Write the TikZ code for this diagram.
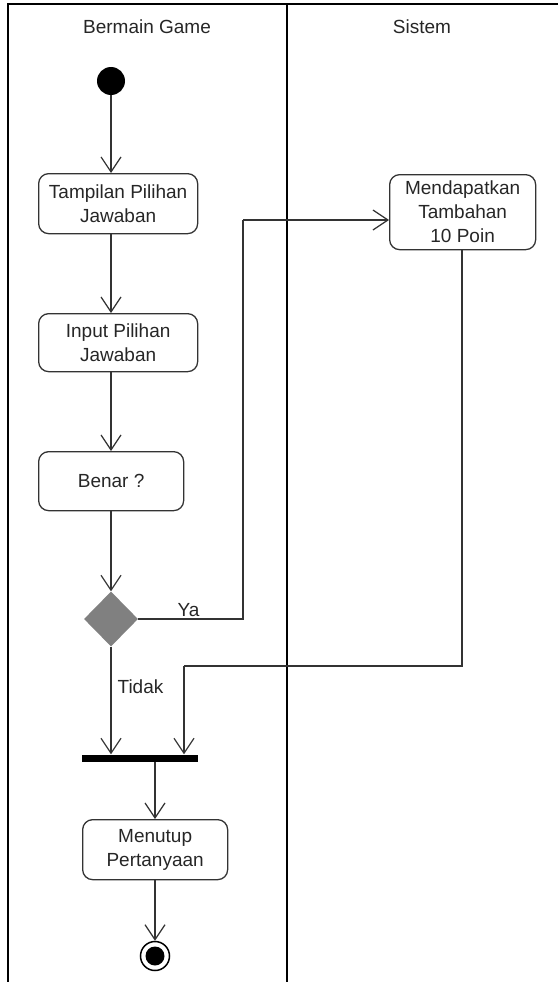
\documentclass[tikz,border=0pt]{standalone}
\usepackage{fontspec}
\setmainfont{Liberation Sans}
\usetikzlibrary{positioning,calc,shapes.geometric,arrows.meta}
\definecolor{Ink}{HTML}{262626}
\definecolor{Edge}{HTML}{333333}
\definecolor{Choice}{HTML}{808080}
\newcommand{\actfont}{\fontsize{19}{24}\selectfont}
\tikzset{
  lane border/.style={line width=1.5pt,draw=black},
  lane split/.style={line width=2.6pt,draw=black},
  action node/.style={draw=Edge,line width=1.3pt,rounded corners=10pt,
    align=center,anchor=north west,text=Ink,font=\actfont,inner sep=3pt},
  flow arrow/.style={-{Straight Barb[length=15pt,width=20pt]},line width=1.2pt,draw=Edge},
  flow line/.style={line width=1.2pt,draw=Edge},
  flow label/.style={text=Ink,font=\actfont,inner sep=2pt}
}

\begin{document}
\begin{tikzpicture}[x=1pt,y=-1pt]
  \useasboundingbox (0,0) rectangle (558,982);
  % swimlanes
  \draw[lane border] (558,4) -- (8,4) -- (8,982);
  \draw[lane split] (287,4) -- (287,982);
  \node[flow label] (lanegame) at (147,27) {Bermain Game};
  \node[flow label] (lanesys) at (422,27) {Sistem};

  % nodes
  \node[circle,fill=black,minimum size=28pt,inner sep=0pt] (start) at (111,81) {};
  \node[action node,minimum width=159pt,minimum height=60pt] (tampil) at (38,173) {Tampilan Pilihan\\Jawaban};
  \node[action node,minimum width=159pt,minimum height=58pt] (input) at (38,313) {Input Pilihan\\Jawaban};
  \node[action node,minimum width=145pt,minimum height=59pt] (benar) at (38,451) {Benar ?};
  \node[diamond,fill=Choice,inner sep=0pt,minimum width=54pt,minimum height=55pt] (cek) at (111,619) {};
  \node[action node,minimum width=146pt,minimum height=75pt] (tambah) at (389,174) {Mendapatkan\\Tambahan\\10 Poin};
  \node[rectangle,fill=black,inner sep=0pt,minimum width=116pt,minimum height=7pt] (join) at (140,758) {};
  \node[action node,minimum width=145pt,minimum height=60pt] (tutup) at (82,819) {Menutup\\Pertanyaan};
  \node[circle,draw=black,line width=1.5pt,minimum size=29pt,inner sep=0pt] (stop) at (155,956) {};
  \fill[black] (stop) circle (9.5pt);
  \coordinate (yaturn) at (243,619);
  \coordinate (yatop) at (243,220);
  \coordinate (pointurn) at (184,666);

  % connectors
  \draw[flow arrow] (start) -- (tampil.north -| start);
  \draw[flow arrow] (tampil.south -| start) -- (input.north -| start);
  \draw[flow arrow] (input.south -| start) -- (benar.north -| start);
  \draw[flow arrow] (benar.south -| start) -- (cek.north);
  \draw[flow line] (cek.east) -- node[flow label,anchor=south,pos=.48] {Ya} (yaturn) -- (yatop);
  \draw[flow arrow] (yatop) -- (yatop -| tambah.west);
  \draw[flow arrow] (cek.south) -- node[flow label,anchor=west,pos=.37,xshift=4pt] {Tidak} (join.north -| cek);
  \draw[flow line] (tambah.south -| 462,0) |- (pointurn);
  \draw[flow arrow] (pointurn) -- (join.north -| pointurn);
  \draw[flow arrow] (join.south -| stop) -- (tutup.north -| stop);
  \draw[flow arrow] (tutup.south -| stop) -- (stop.north);
\end{tikzpicture}
\end{document}
